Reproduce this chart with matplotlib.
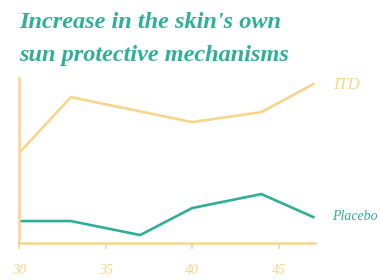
import matplotlib
matplotlib.use("Agg")
import matplotlib.pyplot as plt

years = [30, 33, 40, 44, 47]
itd = [90, 146, 121, 131, 159]
placebo_x = [30, 33, 37, 40, 44, 47]
placebo = [22, 22, 8, 35, 49, 26]
tick_vals = [30, 35, 40, 45]
tick_labels = ["30", "35", "40", "45"]

teal = "#2fae98"
yellow = "#f8d58e"

fig = plt.figure(figsize=(3.8, 2.8), dpi=100)
ax = fig.add_axes([0.05, 0.132, 0.779, 0.589])
ax.plot(years, itd, color=yellow, lw=1.9, solid_joinstyle="miter")
ax.plot(placebo_x, placebo, color=teal, lw=1.9, solid_joinstyle="miter")
ax.set_xlim(30, 47.1)
ax.set_ylim(0, 165)
for s in ["top", "right"]:
    ax.spines[s].set_visible(False)
for s in ["left", "bottom"]:
    ax.spines[s].set_color(yellow)
    ax.spines[s].set_linewidth(1.8)
ax.set_yticks([])
ax.set_xticks(tick_vals)
ax.set_xticklabels(tick_labels, color=yellow, fontsize=10, family="Liberation Serif", style="italic")
ax.tick_params(axis="x", color=yellow, length=4, width=1.2, pad=11)

fig.text(0.05, 0.918, "Increase in the skin's own", color=teal, fontsize=17.5,
         family="Liberation Serif", style="italic", weight="bold", va="center")
fig.text(0.05, 0.800, "sun protective mechanisms", color=teal, fontsize=17.5,
         family="Liberation Serif", style="italic", weight="bold", va="center")

ax.annotate("ITD", xy=(47, itd[-1]), xytext=(333, 280 - 85), textcoords="figure pixels",
            color=yellow, fontsize=12, family="Liberation Serif", style="italic", va="center")
ax.annotate("Placebo", xy=(47, placebo[-1]), xytext=(332, 280 - 216), textcoords="figure pixels",
            color=teal, fontsize=10, family="Liberation Serif", style="italic", va="center")

fig.savefig("out.png", dpi=100)
